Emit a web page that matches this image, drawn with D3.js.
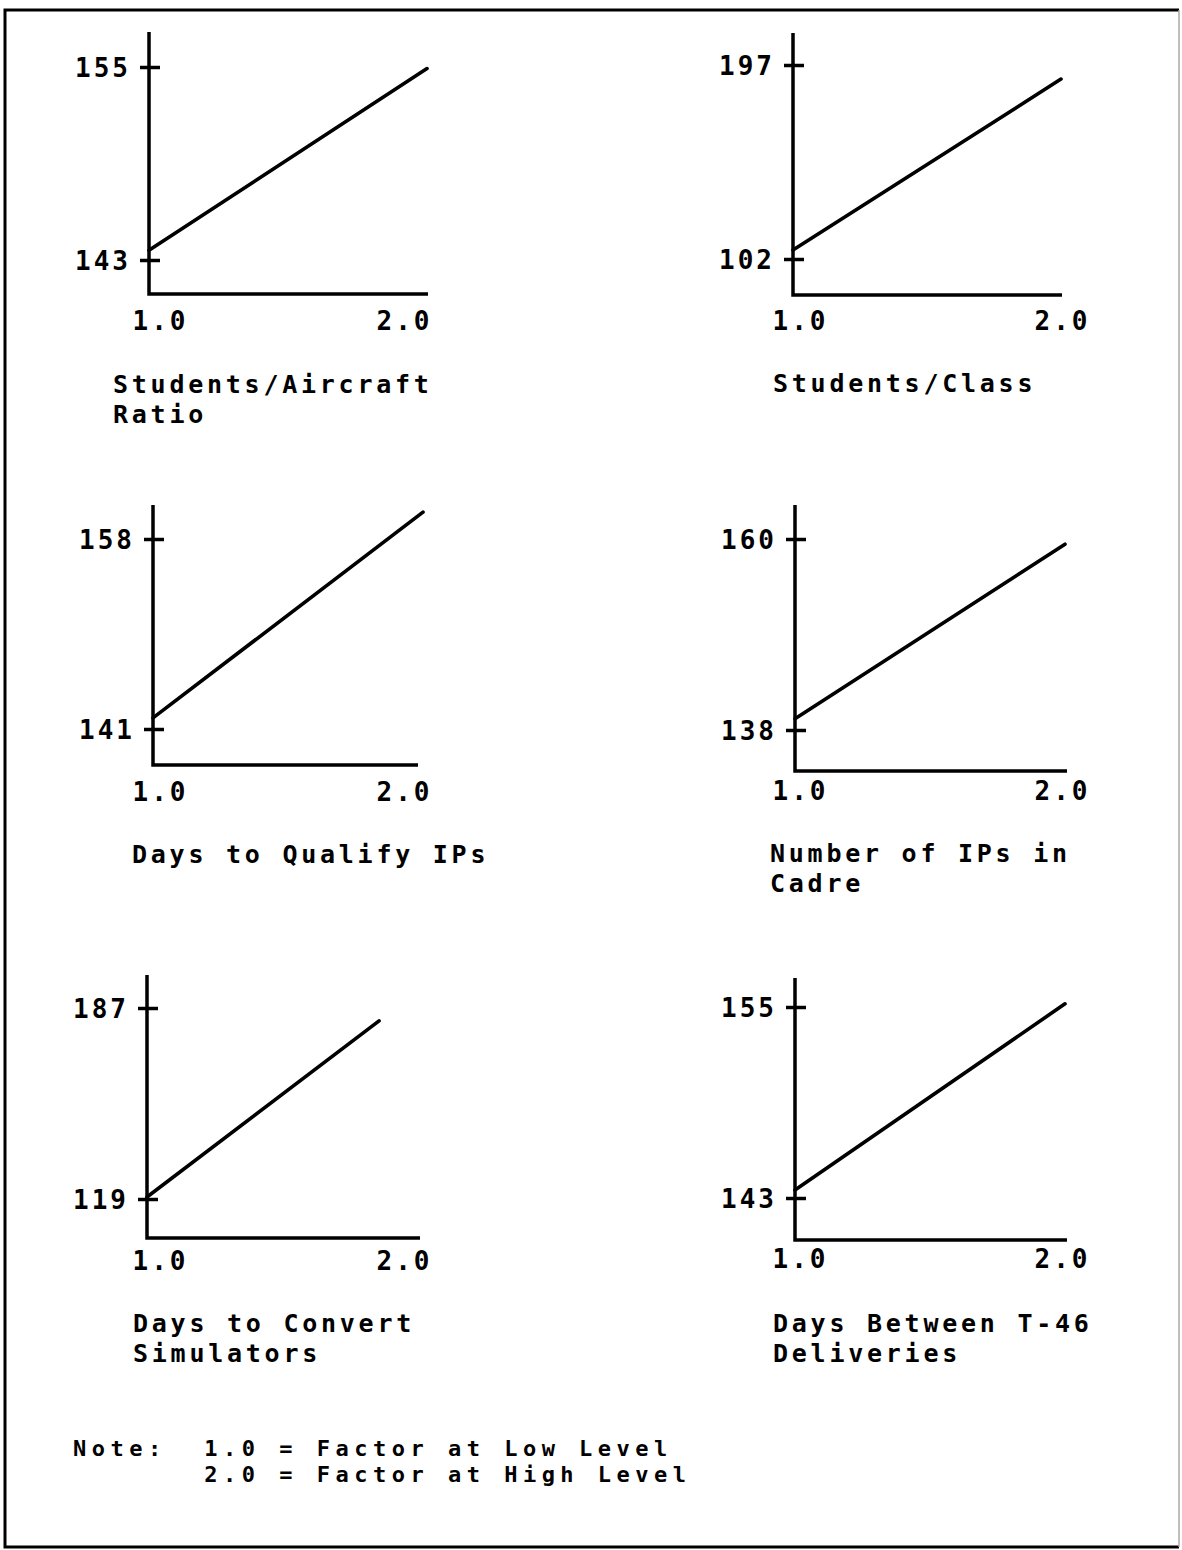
<!DOCTYPE html>
<html>
<head>
<meta charset="utf-8">
<script src="https://cdn.jsdelivr.net/npm/d3@7"></script>
<style>
  body { margin: 0; background: #fff; }
  svg text { font-family: "DejaVu Sans Mono", "Liberation Mono", monospace; font-weight: bold; fill: #000; }
</style>
</head>
<body>
<div id="container"></div>
<script>
const WIDTH = 1182;
const HEIGHT = 1550;

// data
const panelTitles = [
  ['Students/Aircraft', 'Ratio'],
  ['Students/Class'],
  ['Days to Qualify IPs'],
  ['Number of IPs in', 'Cadre'],
  ['Days to Convert', 'Simulators'],
  ['Days Between T-46', 'Deliveries']
];
const lowTicks = [143, 102, 141, 138, 119, 143];
const highTicks = [155, 197, 158, 160, 187, 155];
const lowValues = [143.6, 106.4, 142.0, 139.3, 119.7, 143.5];
const highValues = [154.9, 190.1, 160.4, 159.4, 182.4, 155.2];
const lowX = [1, 1, 1, 1, 1, 1];
const highX = [2, 2, 2, 2, 1.85, 2];
const xTicks = [1.0, 2.0];
const noteLines = ['Note:  1.0 = Factor at Low Level', '       2.0 = Factor at High Level'];

// panel placement
const LAYOUT = [
  { x0: 149, x2: 427, xEnd: 428, top: 32, base: 294, yLow: 260, yHigh: 67, titleX: 113, titleY: 393, labY: 330, col: 0 },
  { x0: 793, x2: 1061, xEnd: 1062, top: 33, base: 295, yLow: 259, yHigh: 65, titleX: 773, titleY: 392, labY: 330, col: 1 },
  { x0: 153, x2: 423, xEnd: 418, top: 505, base: 765, yLow: 729, yHigh: 539, titleX: 132, titleY: 863, labY: 801, col: 0 },
  { x0: 795, x2: 1065, xEnd: 1067, top: 505, base: 771, yLow: 730, yHigh: 539, titleX: 770, titleY: 862, labY: 800, col: 1 },
  { x0: 147, x2: 420, xEnd: 420, top: 975, base: 1238, yLow: 1199, yHigh: 1008, titleX: 133, titleY: 1332, labY: 1270, col: 0 },
  { x0: 795, x2: 1065, xEnd: 1067, top: 978, base: 1240, yLow: 1198, yHigh: 1007, titleX: 773, titleY: 1332, labY: 1268, col: 1 }
];
const LABEL_RANGE = [[158, 402], [798, 1060]];

const svg = d3.select('#container')
  .append('svg')
    .attr('width', WIDTH)
    .attr('height', HEIGHT);

svg.append('rect')
  .attr('width', WIDTH)
  .attr('height', HEIGHT)
  .attr('fill', '#fff');

// page frame
svg.append('path')
  .attr('d', 'M1179,10 L5,10 L5,1547 L1179,1547')
  .attr('fill', 'none')
  .attr('stroke', '#000')
  .attr('stroke-width', 3);
svg.append('line')
  .attr('x1', 1179).attr('y1', 10)
  .attr('x2', 1179).attr('y2', 1547)
  .attr('stroke', '#aaa')
  .attr('stroke-width', 1.5);

LAYOUT.forEach((L, i) => {
  const x = d3.scaleLinear().domain([1, 2]).range([L.x0, L.x2]);
  const y = d3.scaleLinear().domain([lowTicks[i], highTicks[i]]).range([L.yLow, L.yHigh]);
  const g = svg.append('g').attr('class', 'panel');

  // axes frame
  g.append('path')
    .attr('d', d3.line()([[L.x0, L.top], [L.x0, L.base], [L.xEnd, L.base]]))
    .attr('fill', 'none')
    .attr('stroke', '#000')
    .attr('stroke-width', 3.5);

  // y ticks (cross marks) and labels
  const yAxis = g.append('g')
    .attr('transform', `translate(${L.x0},0)`)
    .call(d3.axisLeft(y).tickValues([lowTicks[i], highTicks[i]]).tickSize(0).tickPadding(18).tickFormat(d3.format('d')));
  yAxis.select('.domain').remove();
  yAxis.selectAll('.tick line')
    .attr('x1', -9).attr('x2', 11)
    .attr('stroke', '#000')
    .attr('stroke-width', 3.5);
  yAxis.selectAll('.tick text')
    .attr('dy', '0.36em')
    .style('font-size', '26px')
    .style('letter-spacing', '3px');

  // x labels
  const lab = d3.scaleLinear().domain([1, 2]).range(LABEL_RANGE[L.col]);
  const xAxis = g.append('g')
    .attr('transform', `translate(0,${L.labY})`)
    .call(d3.axisBottom(lab).tickValues(xTicks).tickSize(0).tickPadding(0).tickFormat(d3.format('.1f')));
  xAxis.select('.domain').remove();
  xAxis.selectAll('.tick text')
    .attr('y', 0)
    .attr('dy', 0)
    .attr('dx', 2)
    .style('font-size', '26px')
    .style('letter-spacing', '3px');

  // response line
  g.append('path')
    .datum([[lowX[i], lowValues[i]], [highX[i], highValues[i]]])
    .attr('d', d3.line().x(d => x(d[0])).y(d => y(d[1])))
    .attr('fill', 'none')
    .attr('stroke', '#000')
    .attr('stroke-width', 3.6)
    .attr('stroke-linecap', 'round');

  // factor name
  g.append('text')
    .attr('x', L.titleX)
    .attr('y', L.titleY)
    .style('font-size', '25px')
    .style('letter-spacing', '3.75px')
    .selectAll('tspan')
    .data(panelTitles[i])
    .enter()
    .append('tspan')
      .attr('x', L.titleX)
      .attr('dy', (d, k) => k === 0 ? 0 : 30)
      .text(d => d);
});

svg.append('text')
  .attr('x', 73)
  .attr('y', 1456)
  .style('font-size', '22px')
  .style('letter-spacing', '5.5px')
  .style('white-space', 'pre')
  .selectAll('tspan')
  .data(noteLines)
  .enter()
  .append('tspan')
    .attr('x', 73)
    .attr('dy', (d, k) => k === 0 ? 0 : 26)
    .text(d => d);
</script>
</body>
</html>
